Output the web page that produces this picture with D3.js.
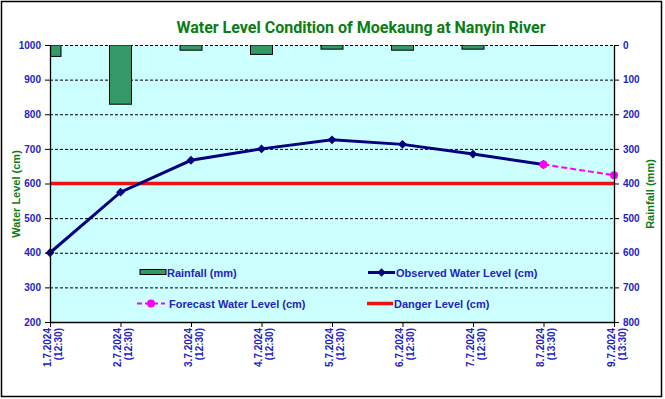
<!DOCTYPE html>
<html>
<head>
<meta charset="utf-8">
<script src="https://cdn.jsdelivr.net/npm/d3@7"></script>
<style>
  body { margin: 0; background: #fff; }
  svg { display: block; font-family: Arial, "Liberation Sans", sans-serif; }
</style>
</head>
<body>
<div id="chart"></div>
<script>
// chart values
const dates = ["1.7.2024", "2.7.2024", "3.7.2024", "4.7.2024", "5.7.2024", "6.7.2024", "7.7.2024", "8.7.2024", "9.7.2024"];
const times = ["(12:30)", "(12:30)", "(12:30)", "(12:30)", "(12:30)", "(12:30)", "(12:30)", "(13:30)", "(13:30)"];
const rainfall = [33, 171, 15, 27, 12, 15, 12, 1, null];
const observed = [400, 575, 667, 700, 726, 713, 685, 655, null];
const forecast = [null, null, null, null, null, null, null, 655, 624];
const dangerLevel = 600;
const levelTicks = [200, 300, 400, 500, 600, 700, 800, 900, 1000];
const rainTicks = [0, 100, 200, 300, 400, 500, 600, 700, 800];

const W = 665, H = 399;
const plot = { left: 50, right: 614, top: 45, bottom: 322 };
const blue = "#2323c4", green = "#0a7d14";

const svg = d3.select("#chart").append("svg")
    .attr("width", W)
    .attr("height", H);

// outer frame
svg.append("rect")
    .attr("x", 1.5).attr("y", 1.5)
    .attr("width", 660).attr("height", 395)
    .attr("fill", "#fff")
    .attr("stroke", "#000")
    .attr("stroke-width", 1.5);

svg.append("text")
    .attr("x", 361)
    .attr("y", 33)
    .attr("text-anchor", "middle")
    .attr("font-family", "Roboto, 'DejaVu Sans', sans-serif")
    .attr("font-weight", "bold")
    .attr("font-size", "16px")
    .attr("fill", green)
    .text("Water Level Condition of Moekaung at Nanyin River");

const x = d3.scalePoint().domain(d3.range(dates.length)).range([plot.left, plot.right]);
const yLevel = d3.scaleLinear().domain([200, 1000]).range([plot.bottom, plot.top]);
const yRain = d3.scaleLinear().domain([0, 800]).range([plot.top, plot.bottom]);

svg.append("rect")
    .attr("x", plot.left).attr("y", plot.top)
    .attr("width", plot.right - plot.left)
    .attr("height", plot.bottom - plot.top)
    .attr("fill", "#ccffff");

svg.append("clipPath").attr("id", "clip")
    .append("rect")
    .attr("x", plot.left).attr("y", plot.top)
    .attr("width", plot.right - plot.left)
    .attr("height", plot.bottom - plot.top);

// gridlines
svg.append("g")
    .selectAll("line")
    .data(levelTicks.filter(d => d > 200))
    .enter().append("line")
    .attr("x1", plot.left).attr("x2", plot.right)
    .attr("y1", d => yLevel(d) + 0.5).attr("y2", d => yLevel(d) + 0.5)
    .attr("stroke", "#000")
    .attr("stroke-width", 1)
    .attr("stroke-dasharray", "3,2");

// rainfall bars hanging from the top
const barW = 22;
svg.append("g")
    .attr("clip-path", "url(#clip)")
    .selectAll("rect")
    .data(rainfall.map((v, i) => ({ v, i })).filter(d => d.v != null))
    .enter().append("rect")
    .attr("x", d => x(d.i) - barW / 2)
    .attr("y", yRain(0))
    .attr("width", barW)
    .attr("height", d => Math.max(yRain(d.v) - yRain(0), 0.5))
    .attr("fill", "#339966")
    .attr("stroke", "#000")
    .attr("stroke-width", 1);

// danger level
svg.append("line")
    .attr("x1", plot.left).attr("x2", plot.right)
    .attr("y1", yLevel(dangerLevel)).attr("y2", yLevel(dangerLevel))
    .attr("stroke", "#ee1111")
    .attr("stroke-width", 3.5);

// observed water level
const line = d3.line()
    .defined(d => d.v != null)
    .x(d => x(d.i))
    .y(d => yLevel(d.v));

const obsPts = observed.map((v, i) => ({ v, i }));
svg.append("path")
    .datum(obsPts)
    .attr("d", line)
    .attr("fill", "none")
    .attr("stroke", "#00007f")
    .attr("stroke-width", 3);
svg.append("g")
    .selectAll("path")
    .data(obsPts.filter(d => d.v != null))
    .enter().append("path")
    .attr("d", d3.symbol(d3.symbolDiamond2, 50))
    .attr("transform", d => `translate(${x(d.i)},${yLevel(d.v)})`)
    .attr("fill", "#00007f");

// forecast water level
const fcPts = forecast.map((v, i) => ({ v, i }));
svg.append("path")
    .datum(fcPts)
    .attr("d", line)
    .attr("fill", "none")
    .attr("stroke", "#ff00ff")
    .attr("stroke-width", 2)
    .attr("stroke-dasharray", "6,3");
svg.append("g")
    .selectAll("circle")
    .data(fcPts.filter(d => d.v != null))
    .enter().append("circle")
    .attr("cx", d => x(d.i))
    .attr("cy", d => yLevel(d.v))
    .attr("r", 4)
    .attr("fill", "#ff00ff");

// axes
const styleAxis = (g) => {
    g.select(".domain").attr("stroke", "#000").attr("stroke-width", 1.3);
    g.selectAll(".tick line").attr("stroke", "#000");
    g.selectAll(".tick text")
        .attr("fill", blue)
        .attr("font-weight", "bold")
        .attr("font-size", "10px")
        .attr("font-family", "Arial, 'Liberation Sans', sans-serif");
};

svg.append("g")
    .attr("transform", `translate(${plot.left},0)`)
    .call(d3.axisLeft(yLevel).tickValues(levelTicks).tickFormat(d3.format("d"))
        .tickSize(5).tickSizeOuter(0).tickPadding(4))
    .call(styleAxis);

svg.append("g")
    .attr("transform", `translate(${plot.right},0)`)
    .call(d3.axisRight(yRain).tickValues(rainTicks).tickFormat(d3.format("d"))
        .tickSize(5).tickSizeOuter(0).tickPadding(4))
    .call(styleAxis);

const xAxis = svg.append("g")
    .attr("transform", `translate(0,${plot.bottom})`)
    .call(d3.axisBottom(x).tickSize(5).tickSizeOuter(0).tickFormat(""))
    .call(styleAxis);

xAxis.selectAll(".tick text").remove();
xAxis.selectAll(".tick").append("text")
    .attr("transform", "translate(0,6) rotate(-90)")
    .attr("text-anchor", "end")
    .attr("fill", blue)
    .attr("font-weight", "bold")
    .attr("font-size", "10px")
    .each(function (i) {
        const t = d3.select(this);
        t.append("tspan").attr("x", 0).attr("y", 0).text(dates[i]);
        t.append("tspan").attr("x", 0).attr("y", 11).text(times[i]);
    });

// axis titles
svg.append("text")
    .attr("transform", "translate(20,194) rotate(-90)")
    .attr("text-anchor", "middle")
    .attr("font-weight", "bold")
    .attr("font-size", "11px")
    .attr("fill", green)
    .text("Water Level (cm)");

svg.append("text")
    .attr("transform", "translate(654,194) rotate(-90)")
    .attr("text-anchor", "middle")
    .attr("font-weight", "bold")
    .attr("font-size", "11px")
    .attr("fill", green)
    .text("Rainfall (mm)");

// legend
const legend = svg.append("g")
    .attr("font-weight", "bold")
    .attr("font-size", "11px")
    .attr("fill", blue);

legend.append("rect")
    .attr("x", 140).attr("y", 269.5)
    .attr("width", 26).attr("height", 5)
    .attr("fill", "#339966").attr("stroke", "#000");
legend.append("text").attr("x", 167).attr("y", 277).text("Rainfall (mm)");

legend.append("line")
    .attr("x1", 368).attr("x2", 395).attr("y1", 272.5).attr("y2", 272.5)
    .attr("stroke", "#00007f").attr("stroke-width", 3);
legend.append("path")
    .attr("d", d3.symbol(d3.symbolDiamond2, 45))
    .attr("transform", "translate(381.5,272.5)")
    .attr("fill", "#00007f");
legend.append("text").attr("x", 396).attr("y", 277).text("Observed Water Level (cm)");

legend.append("line")
    .attr("x1", 137).attr("x2", 165).attr("y1", 303.5).attr("y2", 303.5)
    .attr("stroke", "#ff00ff").attr("stroke-width", 2).attr("stroke-dasharray", "5,3");
legend.append("circle")
    .attr("cx", 151).attr("cy", 303.5).attr("r", 4)
    .attr("fill", "#ff00ff");
legend.append("text").attr("x", 169).attr("y", 307.5).text("Forecast Water Level (cm)");

legend.append("line")
    .attr("x1", 367).attr("x2", 393).attr("y1", 303.5).attr("y2", 303.5)
    .attr("stroke", "#ee1111").attr("stroke-width", 3.5);
legend.append("text").attr("x", 394).attr("y", 307.5).text("Danger Level (cm)");
</script>
</body>
</html>
